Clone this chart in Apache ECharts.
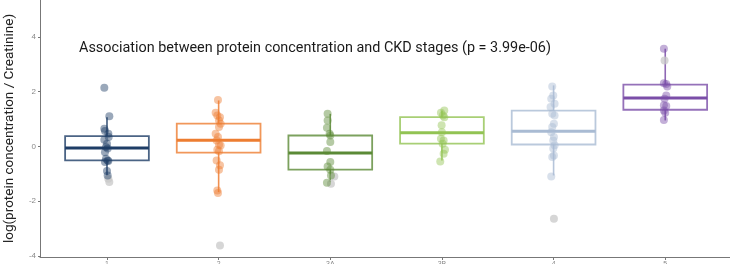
<!DOCTYPE html>
<html>
<head>
<meta charset="utf-8">
<script src="https://cdn.jsdelivr.net/npm/echarts@6/dist/echarts.min.js"></script>
<style>
  html, body { margin: 0; padding: 0; background: #fff; }
  #main { width: 730px; height: 264px; }
</style>
</head>
<body>
<div id="main"></div>
<script>
// CKD stages
var categories = ['1', '2', '3A', '3B', '4', '5'];
var colors = ['#1e3d66', '#ed7d31', '#5b8a36', '#92c353', '#a9bbd3', '#7b4ea8'];

// boxplot stats
var whiskerLow  = [-1.06, -1.67, -1.30, -0.51, -1.06, 0.95];
var q1          = [-0.51, -0.23, -0.85,  0.10,  0.07, 1.34];
var median      = [-0.06,  0.23, -0.24,  0.50,  0.55, 1.77];
var q3          = [ 0.38,  0.83,  0.40,  1.07,  1.31, 2.26];
var whiskerHigh = [ 1.07,  1.68,  1.19,  1.31,  2.23, 3.57];

// jittered points (value, horizontal jitter in category units)
var pointValues = [
  [2.14, 1.10, 0.65, 0.56, 0.46, 0.34, 0.24, 0.10, -0.02, -0.08, -0.21, -0.45, -0.51, -0.57, -0.53, -0.90, -1.06],
  [1.70, 1.23, 1.13, 1.07, 0.95, 0.83, 0.71, 0.46, 0.34, 0.22, 0.06, 0.03, -0.12, -0.18, -0.51, -0.69, -0.85, -1.61, -1.70],
  [1.19, 0.95, 0.68, 0.46, 0.40, 0.16, -0.17, -0.57, -0.73, -0.85, -1.06, -1.33],
  [1.31, 1.23, 1.13, 1.07, 0.77, 0.52, 0.28, 0.22, 0.10, -0.12, -0.27, -0.55],
  [2.19, 1.86, 1.74, 1.56, 1.44, 1.19, 1.13, 0.83, 0.71, 0.52, 0.34, 0.22, 0.04, -0.08, -0.33, -0.39, -1.10],
  [3.57, 2.31, 2.28, 2.19, 1.86, 1.74, 1.50, 1.48, 1.31, 1.23, 0.97]
];
var pointJitter = [
  [-0.024, 0.021, -0.024, -0.018, 0.012, 0.015, -0.024, 0, -0.009, 0.006, -0.018, -0.009, 0.006, -0.018, 0.012, 0, 0.006],
  [-0.006, -0.027, -0.012, 0.012, 0.003, 0.018, 0.003, -0.027, -0.006, -0.018, 0.003, 0.018, -0.012, 0.003, -0.018, 0.012, 0.003, -0.012, -0.006],
  [-0.024, -0.024, -0.03, -0.006, 0, 0, -0.03, 0, -0.024, 0, 0.006, -0.03],
  [0.021, -0.009, 0.009, 0.021, -0.003, 0, -0.009, 0.015, 0.006, 0.027, 0.015, -0.015],
  [-0.012, -0.003, -0.021, 0.009, -0.027, -0.012, 0.009, 0.003, -0.012, -0.021, 0.003, -0.003, 0.009, -0.003, 0.003, -0.012, -0.021],
  [-0.012, -0.012, 0.009, 0.018, 0.009, -0.006, -0.012, 0.009, -0.012, 0, -0.012]
];

// outliers (drawn grey)
var outlierCat    = [0, 0, 1, 2, 2, 4, 5];
var outlierValue  = [-1.18, -1.30, -3.62, -1.10, -1.36, -2.64, 3.14];
var outlierJitter = [0.012, 0.021, 0.012, 0.036, 0.006, 0.003, -0.006];

var yTicks = [-4, -2, 0, 2, 4];

var chart = echarts.init(document.getElementById('main'));

var boxData = categories.map(function (c, i) {
  return [i + 1, whiskerLow[i], q1[i], median[i], q3[i], whiskerHigh[i], i];
});

function renderBox(params, api) {
  var x = api.value(0);
  var ci = api.value(6);
  var col = colors[ci];
  var hw = 0.375;
  var tl = api.coord([x - hw, api.value(4)]);
  var br = api.coord([x + hw, api.value(2)]);
  var ml = api.coord([x - hw, api.value(3)]);
  var mr = api.coord([x + hw, api.value(3)]);
  var wTop = api.coord([x, api.value(5)]);
  var wQ3 = api.coord([x, api.value(4)]);
  var wQ1 = api.coord([x, api.value(2)]);
  var wBot = api.coord([x, api.value(1)]);
  return {
    type: 'group',
    children: [
      { type: 'line', shape: { x1: wTop[0], y1: wTop[1], x2: wQ3[0], y2: wQ3[1] },
        style: { stroke: col, lineWidth: 1.6, opacity: 0.85 } },
      { type: 'line', shape: { x1: wQ1[0], y1: wQ1[1], x2: wBot[0], y2: wBot[1] },
        style: { stroke: col, lineWidth: 1.6, opacity: 0.85 } },
      { type: 'rect', shape: { x: tl[0], y: tl[1], width: br[0] - tl[0], height: br[1] - tl[1] },
        style: { fill: 'none', stroke: col, lineWidth: 1.8, opacity: 0.8 } },
      { type: 'line', shape: { x1: ml[0], y1: ml[1], x2: mr[0], y2: mr[1] },
        style: { stroke: col, lineWidth: 3 } }
    ]
  };
}

var series = [{
  type: 'custom',
  renderItem: renderBox,
  data: boxData,
  encode: { x: 0, y: [1, 5] },
  z: 2
}];

series.push({
  type: 'scatter',
  symbolSize: 8,
  itemStyle: { color: '#c8c8c8', opacity: 0.75 },
  data: outlierValue.map(function (v, k) {
    return [outlierCat[k] + 1 + outlierJitter[k], v];
  }),
  z: 3
});

categories.forEach(function (c, i) {
  series.push({
    type: 'scatter',
    symbolSize: 8,
    itemStyle: { color: colors[i], opacity: 0.45 },
    data: pointValues[i].map(function (v, k) {
      return [i + 1 + pointJitter[i][k], v];
    }),
    z: 4
  });
});

var option = {
  animation: false,
  backgroundColor: '#fff',
  title: {
    text: 'Association between protein concentration and CKD stages (p = 3.99e-06)',
    left: 79,
    top: 41,
    padding: 0,
    textStyle: { fontFamily: 'Roboto', fontSize: 14.4, fontWeight: 'normal', color: '#1a1a1a' }
  },
  grid: { left: 40, right: 0, top: 0, bottom: 7, outerBoundsMode: 'none', containLabel: false },
  xAxis: {
    type: 'value',
    min: 0.4,
    max: 6.58,
    axisLine: { show: true, onZero: false, lineStyle: { color: '#777', width: 1 } },
    axisTick: { show: true, length: 3, customValues: [1, 2, 3, 4, 5, 6], lineStyle: { color: '#777' } },
    axisLabel: {
      customValues: [1, 2, 3, 4, 5, 6],
      fontSize: 7,
      margin: 4,
      color: '#888',
      formatter: function (v) { return categories[Math.round(v) - 1]; }
    },
    splitLine: { show: false }
  },
  yAxis: {
    type: 'value',
    min: -4.04,
    max: 5.35,
    name: 'log(protein concentration / Creatinine)',
    nameLocation: 'middle',
    nameGap: 23,
    nameTextStyle: { fontFamily: 'Roboto', fontSize: 13.5, color: '#222' },
    axisLine: { show: true, onZero: false, lineStyle: { color: '#777', width: 1 } },
    axisTick: { show: true, length: 2, customValues: yTicks, lineStyle: { color: '#777' } },
    axisLabel: { customValues: yTicks, fontSize: 8, margin: 4, color: '#888' },
    splitLine: { show: false }
  },
  series: series
};

chart.setOption(option);
</script>
</body>
</html>
